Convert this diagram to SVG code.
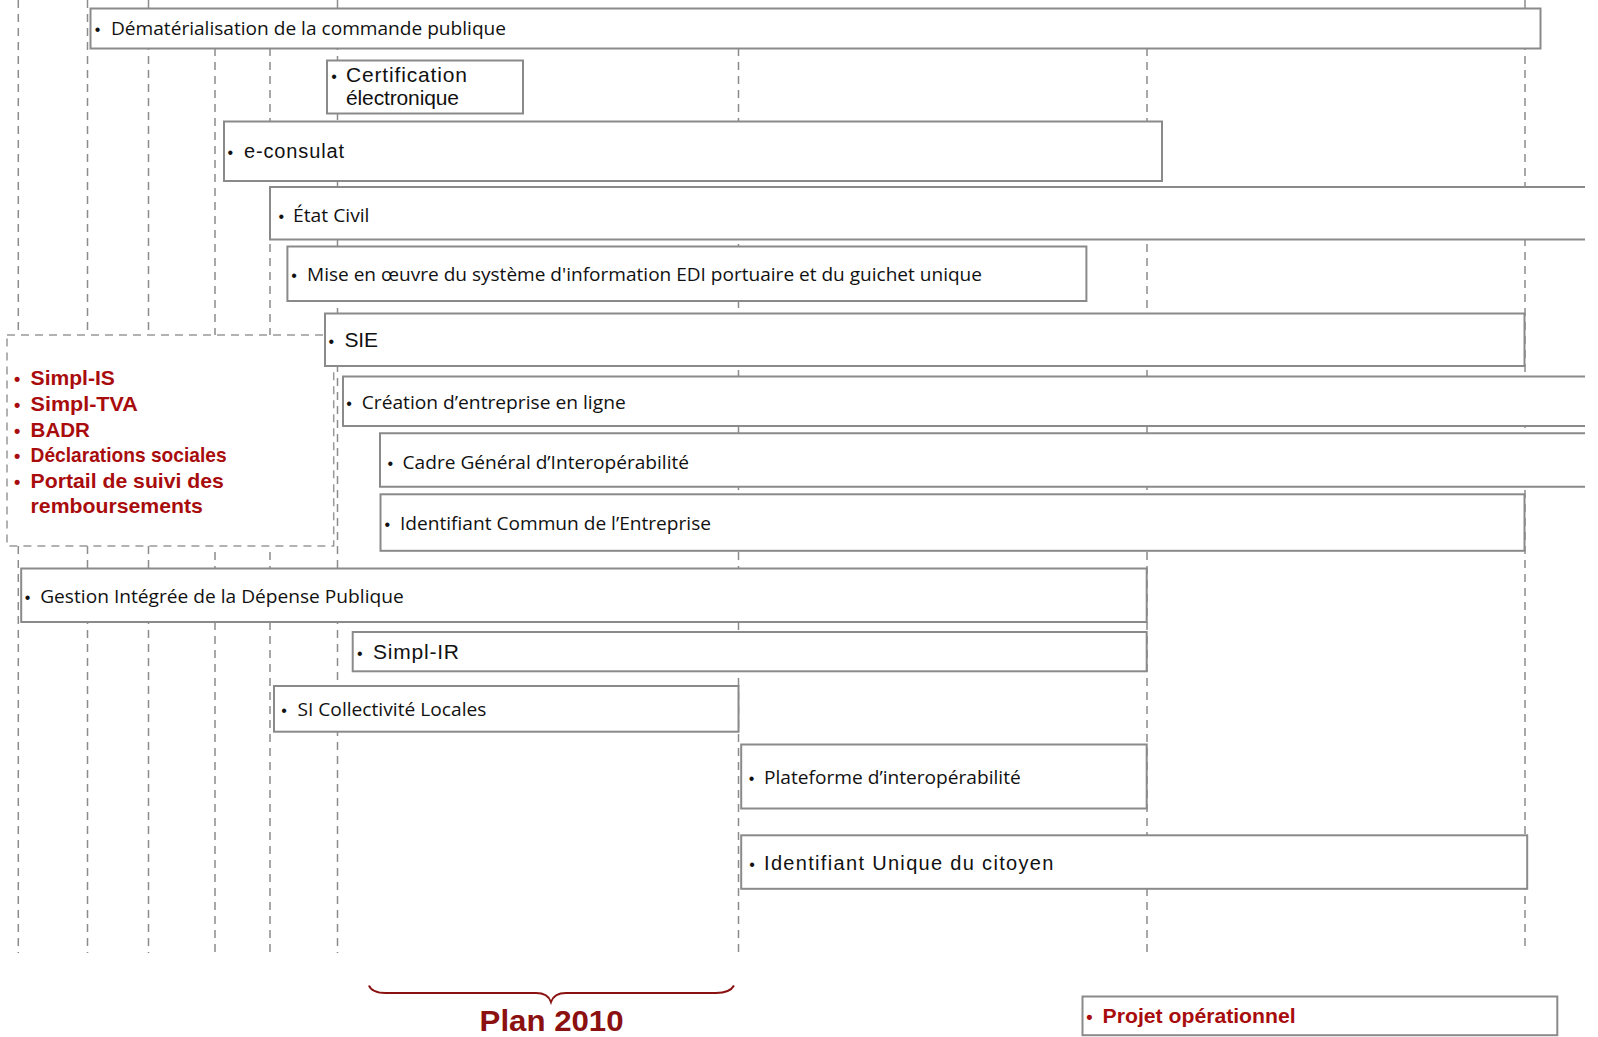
<svg xmlns="http://www.w3.org/2000/svg" width="1598" height="1037" viewBox="0 0 1598 1037">
<style>
.grid line{stroke:#8c8c8c;stroke-width:1.5;stroke-dasharray:8 6;fill:none}
.box{fill:#fff;stroke:#8a8a8a;stroke-width:2}
.boxo{fill:none;stroke:#8a8a8a;stroke-width:2}
.fill{fill:#fff;stroke:none}
.m{font-family:"Open Sans","Noto Sans",sans-serif;font-size:18px;fill:#111}
.a{font-family:"Liberation Sans",Arial,sans-serif;font-size:21px;fill:#111}
.b{font-family:"Liberation Sans",Arial,sans-serif;font-size:16px;fill:#111;text-anchor:middle}
.r{font-family:"Liberation Sans",Arial,sans-serif;font-size:21px;font-weight:bold;fill:#a80c0c}
.rb{font-family:"Liberation Sans",Arial,sans-serif;font-size:18px;font-weight:bold;fill:#a80c0c;text-anchor:middle}
.plan{font-family:"Liberation Sans",Arial,sans-serif;font-size:30px;font-weight:bold;fill:#8b1010}
</style>
<rect width="1598" height="1037" fill="#fff"/>
<g id="connectors" class="grid">
<line x1="18.3" y1="0" x2="18.3" y2="953"/>
<line x1="87.5" y1="0" x2="87.5" y2="953"/>
<line x1="148.5" y1="0" x2="148.5" y2="953"/>
<line x1="215" y1="48" x2="215" y2="953"/>
<line x1="270" y1="48" x2="270" y2="953"/>
<line x1="337.5" y1="0" x2="337.5" y2="953"/>
<line x1="738.5" y1="48" x2="738.5" y2="955"/>
<line x1="1147" y1="48" x2="1147" y2="955"/>
<line x1="1525" y1="0" x2="1525" y2="949"/>
</g>
<g id="legend-box">
<rect x="7" y="335" width="326.7" height="211" fill="#fff" stroke="#999" stroke-width="1.5" stroke-dasharray="8 6"/>
<text class="rb" x="17.2" y="385">•</text><text class="r" x="30.6" y="385" textLength="84.2" lengthAdjust="spacingAndGlyphs">Simpl-IS</text>
<text class="rb" x="17.2" y="410.7">•</text><text class="r" x="30.6" y="410.7" textLength="107.2" lengthAdjust="spacingAndGlyphs">Simpl-TVA</text>
<text class="rb" x="17.2" y="436.7">•</text><text class="r" x="30.6" y="436.7" textLength="59.3" lengthAdjust="spacingAndGlyphs">BADR</text>
<text class="rb" x="17.2" y="462.3">•</text><text class="r" x="30.6" y="462.3" textLength="196" lengthAdjust="spacingAndGlyphs">Déclarations sociales</text>
<text class="rb" x="17.2" y="488.3">•</text><text class="r" x="30.6" y="488.3" textLength="193.3" lengthAdjust="spacingAndGlyphs">Portail de suivi des</text>
<text class="r" x="30.6" y="512.7" textLength="172.2" lengthAdjust="spacingAndGlyphs">remboursements</text>
</g>
<g id="demat">
<rect class="box" x="90.5" y="8.5" width="1450" height="40"/>
<text class="b" x="97.6" y="35">•</text><text class="m" x="111" y="35" textLength="395" lengthAdjust="spacingAndGlyphs">Dématérialisation de la commande publique</text>
</g>
<g id="certification">
<rect class="box" x="327" y="60.5" width="196" height="53"/>
<text class="b" x="334" y="81.7">•</text><text class="a" x="346" y="81.7" textLength="121">Certification</text>
<text class="a" x="346" y="105" textLength="113">électronique</text>
</g>
<g id="econsulat">
<rect class="box" x="224" y="121.5" width="938" height="59.5"/>
<text class="b" x="230.4" y="158">•</text><text class="a" x="244" y="158" style="font-size:20px" textLength="100">e-consulat</text>
</g>
<g id="etatcivil">
<rect class="fill" x="270" y="187" width="1315" height="52.5"/>
<path class="boxo" d="M1585,187 H270 V239.5 H1585"/>
<text class="b" x="281.3" y="221.7">•</text><text class="m" x="293" y="221.7" textLength="76.5" lengthAdjust="spacingAndGlyphs">État Civil</text>
</g>
<g id="edi">
<rect class="box" x="287.4" y="246.5" width="799" height="54.5"/>
<text class="b" x="294" y="281">•</text><text class="m" x="307" y="281" textLength="675" lengthAdjust="spacingAndGlyphs">Mise en œuvre du système d'information EDI portuaire et du guichet unique</text>
</g>
<g id="sie">
<rect class="box" x="325" y="313.5" width="1199.5" height="52.5"/>
<text class="b" x="331.4" y="346.7">•</text><text class="a" x="344.4" y="346.7" textLength="33.7">SIE</text>
</g>
<g id="creation">
<rect class="fill" x="343" y="376.5" width="1242" height="49.5"/>
<path class="boxo" d="M1585,376.5 H343 V426 H1585"/>
<text class="b" x="349" y="409">•</text><text class="m" x="361.7" y="409" textLength="264" lengthAdjust="spacingAndGlyphs">Création d’entreprise en ligne</text>
</g>
<g id="cadre">
<rect class="fill" x="380" y="433.3" width="1205" height="53.4"/>
<path class="boxo" d="M1585,433.3 H380 V486.7 H1585"/>
<text class="b" x="390.4" y="469">•</text><text class="m" x="402.6" y="469" textLength="286.4" lengthAdjust="spacingAndGlyphs">Cadre Général d’Interopérabilité</text>
</g>
<g id="identcommun">
<rect class="box" x="380.5" y="494.3" width="1144" height="56.5"/>
<text class="b" x="387.3" y="530">•</text><text class="m" x="400" y="530" textLength="311" lengthAdjust="spacingAndGlyphs">Identifiant Commun de l’Entreprise</text>
</g>
<g id="gestion">
<rect class="box" x="21.2" y="568.5" width="1125.5" height="53.5"/>
<text class="b" x="27.6" y="603">•</text><text class="m" x="40.2" y="603" textLength="363.5" lengthAdjust="spacingAndGlyphs">Gestion Intégrée de la Dépense Publique</text>
</g>
<g id="simplir">
<rect class="box" x="352.7" y="632" width="794" height="39.3"/>
<text class="b" x="359.7" y="659">•</text><text class="a" x="373" y="659" textLength="86">Simpl-IR</text>
</g>
<g id="sicoll">
<rect class="box" x="274" y="686" width="464.5" height="45.7"/>
<text class="b" x="284" y="716">•</text><text class="m" x="297.4" y="716" textLength="189" lengthAdjust="spacingAndGlyphs">SI Collectivité Locales</text>
</g>
<g id="plateforme">
<rect class="box" x="741.2" y="744.5" width="405.5" height="64"/>
<text class="b" x="751.5" y="784">•</text><text class="m" x="764" y="784" textLength="256.7" lengthAdjust="spacingAndGlyphs">Plateforme d’interopérabilité</text>
</g>
<g id="identunique">
<rect class="box" x="741.2" y="835.3" width="786" height="53.5"/>
<text class="b" x="752" y="869.5">•</text><text class="a" x="764" y="869.5" style="font-size:20px" textLength="289.4">Identifiant Unique du citoyen</text>
</g>
<g id="projet">
<rect class="box" x="1082.5" y="996.5" width="474.8" height="38.7"/>
<text class="rb" x="1089.4" y="1022.7">•</text><text class="r" x="1102.6" y="1022.7" textLength="193" lengthAdjust="spacingAndGlyphs">Projet opérationnel</text>
</g>
<g id="plan2010">
<path d="M369,985.5 C371,991 376,993 386,993 L536,993 C545,993 549,996 551,1002 C553,996 557,993 566,993 L716,993 C726,993 731,991 734,985.5" fill="none" stroke="#8b1010" stroke-width="2"/>
<text class="plan" x="479.6" y="1031" textLength="144" lengthAdjust="spacingAndGlyphs">Plan 2010</text>
</g>
</svg>
